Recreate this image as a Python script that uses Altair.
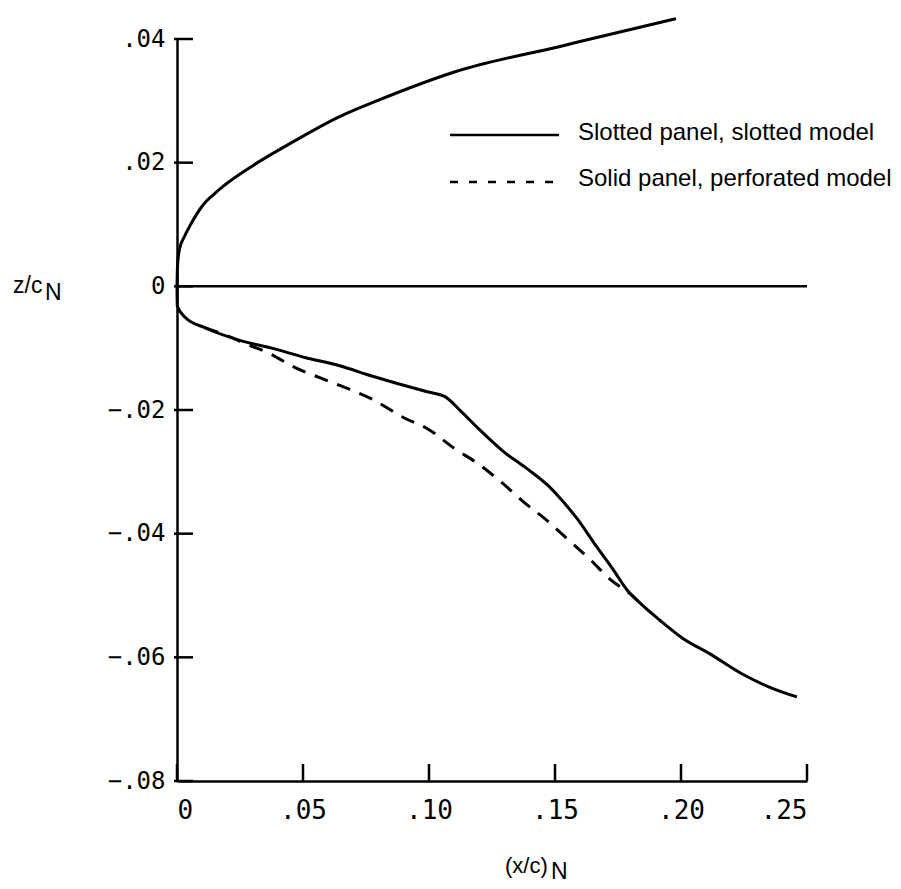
import altair as alt
import pandas as pd

# Upper surface (slotted panel, slotted model)
upper_x = [0.0, 0.0002, 0.001, 0.003, 0.005, 0.0077, 0.0104, 0.0144, 0.0184, 0.0304,
           0.0436, 0.0637, 0.0836, 0.1104, 0.154, 0.162, 0.198]
upper_y = [0.0, 0.0033, 0.006, 0.0081, 0.0097, 0.0116, 0.0132, 0.0148, 0.0162, 0.0196,
           0.0228, 0.0273, 0.0307, 0.0347, 0.039, 0.0398, 0.0433]

# Lower surface, slotted panel, slotted model (solid line)
lower_x = [0.0, 0.0001, 0.0032, 0.0111, 0.0246, 0.0376, 0.0507, 0.0642, 0.0773, 0.0864,
           0.0998, 0.1062, 0.1129, 0.1196, 0.1298, 0.1393, 0.1472, 0.1523, 0.159, 0.1653,
           0.1731, 0.1786, 0.1837, 0.1916, 0.2006, 0.2113, 0.2243, 0.235, 0.246]
lower_y = [0.0, -0.0032, -0.005, -0.0067, -0.0087, -0.010, -0.0115, -0.0128, -0.0145, -0.0156,
           -0.0171, -0.0178, -0.0203, -0.023, -0.0268, -0.0296, -0.0322, -0.0344, -0.0377, -0.0414,
           -0.0458, -0.0491, -0.0512, -0.054, -0.0569, -0.0594, -0.0627, -0.0648, -0.0664]

# Lower surface, solid panel, perforated model (dashed line)
dash_x = [0.0111, 0.0200, 0.0285, 0.0364, 0.0467, 0.0574, 0.0681, 0.0772, 0.0902, 0.0997,
          0.110, 0.1195, 0.1285, 0.1376, 0.1463, 0.155, 0.164, 0.1719, 0.1809, 0.1837]
dash_y = [-0.0067, -0.0080, -0.0095, -0.0108, -0.0131, -0.0149, -0.0166, -0.0182, -0.0213, -0.0231,
          -0.0262, -0.0287, -0.0316, -0.0349, -0.0377, -0.0409, -0.0442, -0.0474, -0.0501, -0.0512]

# Reference (zero) line
zero_x = [0.0, 0.25]
zero_y = [0.0, 0.0]

x_ticks = [0.0, 0.05, 0.10, 0.15, 0.20, 0.25]
y_ticks = [0.04, 0.02, 0.0, -0.02, -0.04, -0.06, -0.08]

legend_labels = ["Slotted panel, slotted model", "Solid panel, perforated model"]


def frame(xs, ys, name):
    return pd.DataFrame({"x": xs, "y": ys, "curve": name, "i": range(len(xs))})


curve_df = pd.concat([frame(upper_x, upper_y, "upper"),
                      frame(lower_x, lower_y, "lower")])
zero_df = frame(zero_x, zero_y, "zero")
dash_df = frame(dash_x, dash_y, "dashed")

W, H = 630, 742

xs = alt.Scale(domain=[0, 0.25], nice=False, zero=False)
ys = alt.Scale(domain=[-0.08, 0.04], nice=False, zero=False)

lbl = "datum.value == 0 ? '0' : replace(format(datum.value, '.2f'), '0.', '.')"

x_axis = alt.Axis(values=x_ticks, labelExpr=lbl, title=None, ticks=False, grid=False,
                  labelFont="DejaVu Sans Mono", labelFontSize=26, labelPadding=16,
                  labelColor="black", domainColor="black", domainWidth=2.5)
y_axis = alt.Axis(values=y_ticks, labelExpr=lbl, title=None, ticks=False, grid=False,
                  labelFont="DejaVu Sans Mono", labelFontSize=24, labelPadding=12,
                  labelColor="black", domainColor="black", domainWidth=2.5)

curves = alt.Chart(curve_df).mark_line(color="black", strokeWidth=3, interpolate="monotone").encode(
    x=alt.X("x:Q", scale=xs, axis=x_axis),
    y=alt.Y("y:Q", scale=ys, axis=y_axis),
    detail="curve:N",
    order="i:Q",
)

zero = alt.Chart(zero_df).mark_line(color="black", strokeWidth=2.5).encode(
    x=alt.X("x:Q", scale=xs),
    y=alt.Y("y:Q", scale=ys),
    order="i:Q",
)

dashed = alt.Chart(dash_df).mark_line(color="black", strokeWidth=3, strokeDash=[14, 10],
                                      interpolate="monotone").encode(
    x=alt.X("x:Q", scale=xs),
    y=alt.Y("y:Q", scale=ys),
    order="i:Q",
)

# inward tick marks
yt = alt.Chart(pd.DataFrame({"v": y_ticks})).mark_rule(color="black", strokeWidth=2.5).encode(
    y=alt.Y("v:Q", scale=ys), x=alt.value(-3), x2=alt.value(16))
xt = alt.Chart(pd.DataFrame({"v": x_ticks})).mark_rule(color="black", strokeWidth=2.5).encode(
    x=alt.X("v:Q", scale=xs), y=alt.value(H), y2=alt.value(H - 17))

# legend
leg_solid = alt.Chart(pd.DataFrame({"k": [0]})).mark_rule(color="black", strokeWidth=2.5).encode(
    x=alt.value(273), x2=alt.value(382), y=alt.value(96))
leg_dash = alt.Chart(pd.DataFrame({"k": [0]})).mark_rule(color="black", strokeWidth=2.5,
                                                       strokeDash=[8, 11]).encode(
    x=alt.value(273), x2=alt.value(382), y=alt.value(143))
leg_t1 = alt.Chart(pd.DataFrame({"t": [legend_labels[0]]})).mark_text(
    align="left", baseline="middle", font="Liberation Sans", fontSize=24, color="black").encode(
    x=alt.value(401), y=alt.value(94), text="t:N")
leg_t2 = alt.Chart(pd.DataFrame({"t": [legend_labels[1]]})).mark_text(
    align="left", baseline="middle", font="Liberation Sans", fontSize=24, color="black").encode(
    x=alt.value(401), y=alt.value(140), text="t:N")


# axis titles with subscript N
def txt(s, x, y, size):
    return alt.Chart(pd.DataFrame({"t": [s]})).mark_text(
        align="left", baseline="alphabetic", font="Liberation Sans", fontSize=size, color="black"
    ).encode(x=alt.value(x), y=alt.value(y), text="t:N")


ytitle = txt("z/c", -164, 254, 23) + txt("N", -132, 261, 23)
xtitle = txt("(x/c)", 328, 834, 22) + txt("N", 374, 840, 23)

chart = alt.layer(curves, zero, dashed, yt, xt, leg_solid, leg_dash, leg_t1, leg_t2,
                  ytitle, xtitle).properties(
    width=W, height=H,
    padding={"left": 169, "top": 31, "right": 86, "bottom": 104},
    autosize=alt.AutoSizeParams(type="none"),
).configure_view(stroke=None)

chart.save("out.html", embed_options={"renderer": "svg", "actions": False})
